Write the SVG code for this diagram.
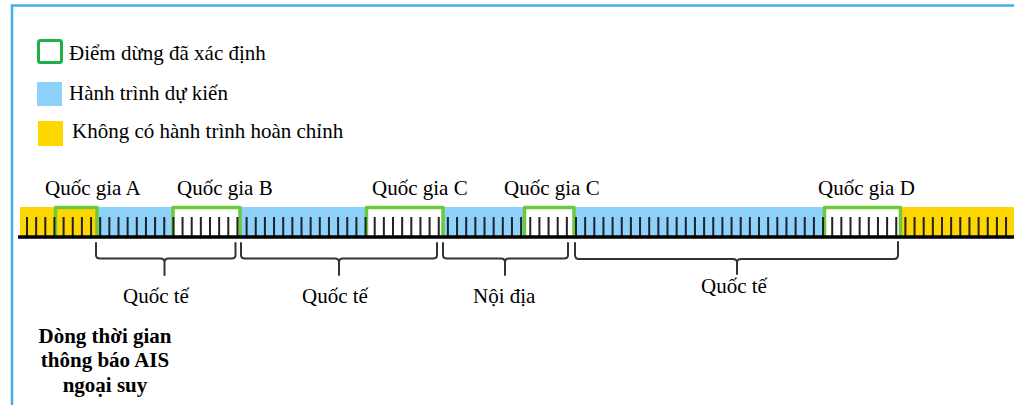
<svg xmlns="http://www.w3.org/2000/svg" width="1014" height="405" viewBox="0 0 1014 405">
<style>
.t{font-family:"Liberation Serif","Times New Roman",serif;font-size:21px;fill:#000}
.b{font-weight:bold;text-anchor:middle}
.stop{fill:#fff;stroke:#6CC93A;stroke-width:3.5;stroke-linejoin:round}
.stopA{fill:none;stroke:#6CC93A;stroke-width:3.5;stroke-linejoin:round}
.brace{fill:none;stroke:#333;stroke-width:2;stroke-linecap:round}
</style>
<rect x="0" y="0" width="1014" height="405" fill="#fff"/>
<path d="M12,405 V5.5 H1014" fill="none" stroke="#45AEE6" stroke-width="2.5"/>

<g id="legend">
  <g id="legend-stop">
    <rect x="38.5" y="40.5" width="23" height="22" rx="2" fill="#fff" stroke="#1FAF4C" stroke-width="3"/>
    <text class="t" x="69" y="60">Điểm dừng đã xác định</text>
  </g>
  <g id="legend-planned">
    <rect x="37" y="82" width="25" height="24" fill="#8ED2FC"/>
    <text class="t" x="69" y="99.5">Hành trình dự kiến</text>
  </g>
  <g id="legend-incomplete">
    <rect x="38" y="121" width="25" height="25" fill="#FFD700"/>
    <text class="t" x="72" y="138">Không có hành trình hoàn chỉnh</text>
  </g>
</g>

<g id="timeline">
  <rect x="20" y="207" width="77" height="29" fill="#FFD700"/>
  <rect x="97" y="207" width="728" height="29" fill="#8ED2FC"/>
  <rect x="900" y="207" width="114" height="29" fill="#FFD700"/>
  <g id="stop-A"><path class="stopA" d="M55.5,236 V207.5 H97 V236"/></g>
  <g id="stop-B"><path class="stop" d="M173,236 V207.5 H240 V236"/></g>
  <g id="stop-C1"><path class="stop" d="M366.5,236 V207.5 H443 V236"/></g>
  <g id="stop-C2"><path class="stop" d="M524.5,236 V207.5 H574 V236"/></g>
  <g id="stop-D"><path class="stop" d="M824.5,236 V207.5 H900.5 V236"/></g>
  <line x1="26" y1="226.5" x2="1014" y2="226.5" stroke="#222" stroke-width="19" stroke-dasharray="2 7.15"/>
  <line x1="18" y1="237" x2="1014" y2="237" stroke="#000" stroke-width="3.5"/>
</g>

<g id="connectors">
  <path class="brace" d="M96,243 V255 Q96,258.5 100,258.5 H160.5 Q164.5,258.5 164.5,262 V275 M164.5,262 Q164.5,258.5 168.5,258.5 H231.5 Q235.5,258.5 235.5,255 V243"/>
  <path class="brace" d="M241,243 V255 Q241,258.5 245,258.5 H335 Q339,258.5 339,262 V275 M339,262 Q339,258.5 343,258.5 H433 Q437,258.5 437,255 V243"/>
  <path class="brace" d="M443,243 V255 Q443,258.5 447,258.5 H501 Q505,258.5 505,262 V275 M505,262 Q505,258.5 509,258.5 H564 Q568,258.5 568,255 V243"/>
  <path class="brace" d="M575,243 V255 Q575,259 579,259 H733 Q737,259 737,262.5 V274 M737,262.5 Q737,259 741,259 H894 Q898,259 898,255 V242"/>
</g>

<g id="labels">
  <text class="t" x="45" y="195">Quốc gia A</text>
  <text class="t" x="177" y="195">Quốc gia B</text>
  <text class="t" x="372" y="195">Quốc gia C</text>
  <text class="t" x="504" y="195">Quốc gia C</text>
  <text class="t" x="818" y="195">Quốc gia D</text>
  <text class="t" x="123" y="303">Quốc tế</text>
  <text class="t" x="302" y="303">Quốc tế</text>
  <text class="t" x="473" y="303">Nội địa</text>
  <text class="t" x="701" y="293">Quốc tế</text>
</g>

<g id="title">
  <text class="t b" x="105" y="342.5">Dòng thời gian</text>
  <text class="t b" x="105" y="367">thông báo AIS</text>
  <text class="t b" x="105" y="391.5">ngoại suy</text>
</g>
</svg>
